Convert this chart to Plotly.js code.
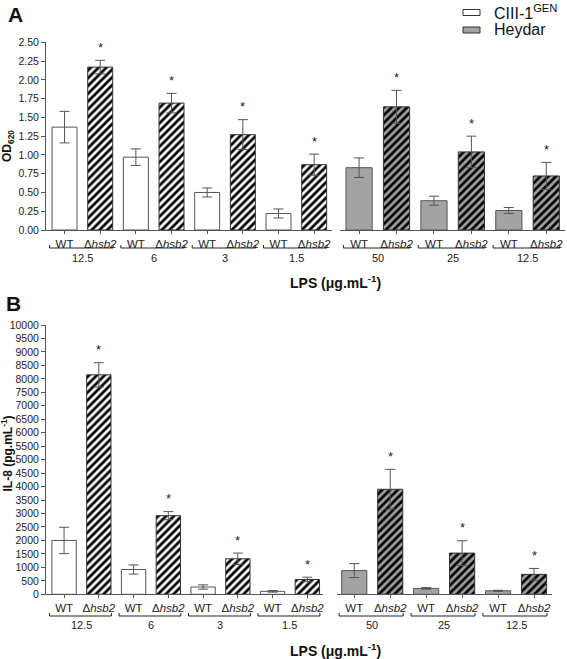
<!DOCTYPE html>
<html><head><meta charset="utf-8">
<script src="https://cdn.plot.ly/plotly-3.0.1.min.js"></script>
<style>html,body{margin:0;padding:0;background:#fff}</style>
</head><body><div id="chart" style="width:567px;height:659px"></div>
<script>
// ---- data ----
const strains = ['WT', 'Δ<i>hsb2</i>'];
const concCIII = ['12.5', '6', '3', '1.5'];
const concHeydar = ['50', '25', '12.5'];

// Panel A: OD620
const odCIIIwt = [1.37, 0.97, 0.50, 0.22];
const odCIIIwtErr = [0.21, 0.11, 0.06, 0.06];
const odCIIIko = [2.17, 1.69, 1.27, 0.87];
const odCIIIkoErr = [0.09, 0.13, 0.20, 0.14];
const odHeyWt = [0.83, 0.39, 0.26];
const odHeyWtErr = [0.13, 0.06, 0.04];
const odHeyKo = [1.64, 1.04, 0.72];
const odHeyKoErr = [0.22, 0.21, 0.18];

// Panel B: IL-8
const ilCIIIwt = [2000, 920, 270, 110];
const ilCIIIwtErr = [490, 170, 80, 30];
const ilCIIIko = [8150, 2920, 1320, 550];
const ilCIIIkoErr = [450, 150, 210, 85];
const ilHeyWt = [880, 220, 130];
const ilHeyWtErr = [260, 30, 20];
const ilHeyKo = [3900, 1530, 740];
const ilHeyKoErr = [740, 460, 220];

const odTicks = [0, 0.25, 0.5, 0.75, 1, 1.25, 1.5, 1.75, 2, 2.25, 2.5];
const ilTicks = [0,500,1000,1500,2000,2500,3000,3500,4000,4500,5000,5500,6000,6500,7000,7500,8000,8500,9000,9500,10000];

// ---- styling ----
const W = 567, H = 659;
const FONT = 'Liberation Sans, Arial, sans-serif';
const WHITE = '#ffffff', GREY = '#a3a3a3', LINE = '#555555';
const py = p => 1 - p / H, px = p => p / W;

const traces = [];
const annotations = [];
const shapes = [];

function addGroup(conc, wt, wtErr, ko, koErr, xa, ya, fill) {
  const xw = conc.map((c, i) => 2 * i), xk = conc.map((c, i) => 2 * i + 1);
  const errStyle = {type: 'data', visible: true, color: LINE, thickness: 1, width: 5};
  traces.push({
    type: 'bar', x: xw, y: wt, xaxis: xa, yaxis: ya, width: 0.7,
    marker: {color: fill, line: {color: LINE, width: 1}},
    error_y: Object.assign({array: wtErr}, errStyle),
    showlegend: false, hoverinfo: 'y'
  });
  traces.push({
    type: 'bar', x: xk, y: ko, xaxis: xa, yaxis: ya, width: 0.7,
    marker: {color: fill, line: {color: '#333', width: 1},
      pattern: {shape: '/', fgcolor: '#000', bgcolor: fill, size: 5.5, solidity: 0.5, fillmode: 'replace'}},
    error_y: Object.assign({array: koErr}, errStyle),
    showlegend: false, hoverinfo: 'y'
  });
  ko.forEach((v, i) => annotations.push({
    xref: xa, yref: ya, x: xk[i], y: v + koErr[i], text: '*', showarrow: false,
    yshift: 13, font: {family: FONT, size: 13, color: '#222'}
  }));
}

function xAxisFor(conc, domain, range, labelY, bracketY, xa) {
  const vals = [], text = [];
  conc.forEach((c, i) => {
    vals.push(2 * i, 2 * i + 1); text.push(strains[0], strains[1]);
    annotations.push({xref: xa, yref: 'paper', x: 2 * i + 0.5, y: py(labelY), text: c,
      showarrow: false, yanchor: 'middle', font: {family: FONT, size: 11, color: '#222'}});
    const x0 = 2 * i - 0.42, x1 = 2 * i + 1.36, yb = py(bracketY), yt = py(bracketY - 3);
    shapes.push({type: 'path', xref: xa, yref: 'paper',
      path: `M${x0},${yt} L${x0},${yb} L${x1},${yb} L${x1},${yt}`,
      line: {color: '#222', width: 1}});
  });
  return {domain, range, showline: true, linecolor: LINE, linewidth: 1, ticks: 'outside',
    ticklen: 3, tickcolor: LINE, tickvals: vals, ticktext: text, showgrid: false, zeroline: false,
    tickfont: {family: FONT, size: 11.5, color: '#222'}, fixedrange: true};
}

function yAxisMain(domain, range, ticks, fmt, anchor) {
  return {domain, range, anchor, showline: true, linecolor: LINE, linewidth: 1, ticks: 'outside',
    ticklen: 4, tickcolor: LINE, tickvals: ticks, tickformat: fmt, showgrid: false, zeroline: false,
    tickfont: {family: FONT, size: 10.5, color: '#222'}, fixedrange: true};
}
function yAxisHidden(domain, range, anchor) {
  return {domain, range, anchor, showline: false, showticklabels: false, ticks: '',
    showgrid: false, zeroline: false, fixedrange: true};
}

addGroup(concCIII, odCIIIwt, odCIIIwtErr, odCIIIko, odCIIIkoErr, 'x', 'y', WHITE);
addGroup(concHeydar, odHeyWt, odHeyWtErr, odHeyKo, odHeyKoErr, 'x2', 'y2', GREY);
addGroup(concCIII, ilCIIIwt, ilCIIIwtErr, ilCIIIko, ilCIIIkoErr, 'x3', 'y3', WHITE);
addGroup(concHeydar, ilHeyWt, ilHeyWtErr, ilHeyKo, ilHeyKoErr, 'x4', 'y4', GREY);

const yA = [py(230), py(42.3)], yB = [py(594.3), py(325)];

const layout = {
  width: W, height: H, autosize: false,
  margin: {l: 0, r: 0, t: 0, b: 0},
  paper_bgcolor: '#fff', plot_bgcolor: 'rgba(0,0,0,0)',
  barmode: 'overlay', showlegend: false,
  font: {family: FONT, color: '#222'},
  xaxis: Object.assign(xAxisFor(concCIII, [px(46), px(332)], [-0.52, 7.5], 258, 248, 'x'), {anchor: 'y'}),
  xaxis2: Object.assign(xAxisFor(concHeydar, [px(340), px(565)], [-0.51, 5.5], 258, 248, 'x2'), {anchor: 'y2'}),
  xaxis3: Object.assign(xAxisFor(concCIII, [px(46), px(323)], [-0.52, 7.45], 625, 616, 'x3'), {anchor: 'y3'}),
  xaxis4: Object.assign(xAxisFor(concHeydar, [px(337), px(552)], [-0.48, 5.5], 625, 616, 'x4'), {anchor: 'y4'}),
  yaxis: yAxisMain(yA, [0, 2.5], odTicks, '.2f', 'x'),
  yaxis2: yAxisHidden(yA, [0, 2.5], 'x2'),
  yaxis3: yAxisMain(yB, [0, 10000], ilTicks, 'd', 'x3'),
  yaxis4: yAxisHidden(yB, [0, 10000], 'x4'),
  shapes: shapes,
  annotations: annotations
};

// Titles, panel letters, legend
const bold = (t, s, x, y, extra) => Object.assign({xref: 'paper', yref: 'paper', x, y, text: t,
  showarrow: false, xanchor: 'center', yanchor: 'middle', font: {family: FONT, size: s, color: '#111'}}, extra || {});
layout.annotations.push(
  bold('<b>A</b>', 21, px(15), py(15)),
  bold('<b>B</b>', 21, px(13), py(304)),
  bold('<b>OD<sub>620</sub></b>', 12, px(8), py(146), {textangle: -90}),
  bold('<b>IL-8 (pg.mL<sup>-1</sup>)</b>', 12, px(6.5), py(454), {textangle: -90}),
  bold('<b>LPS (μg.mL<sup>-1</sup>)</b>', 14, px(335), py(282)),
  bold('<b>LPS (μg.mL<sup>-1</sup>)</b>', 14, px(335), py(650)),
  bold('CIII-1<sup>GEN</sup>', 16, px(492), py(12), {xanchor: 'left', font: {family: FONT, size: 16, color: '#111'}}),
  bold('Heydar', 16, px(492), py(30), {xanchor: 'left', font: {family: FONT, size: 16, color: '#111'}})
);
layout.shapes.push(
  {type: 'rect', xref: 'paper', yref: 'paper', x0: px(463), x1: px(480), y0: py(15.5), y1: py(9.5),
    fillcolor: WHITE, line: {color: '#333', width: 1}},
  {type: 'rect', xref: 'paper', yref: 'paper', x0: px(463), x1: px(480), y0: py(33), y1: py(27),
    fillcolor: GREY, line: {color: '#333', width: 1}}
);

Plotly.newPlot('chart', traces, layout, {displayModeBar: false, staticPlot: true});
</script></body></html>
